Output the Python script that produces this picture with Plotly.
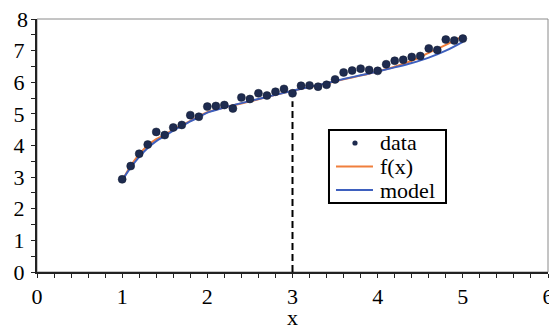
import plotly.graph_objects as go

# ---- data ----
data_x = [1.0, 1.1, 1.2, 1.3, 1.4, 1.5, 1.6, 1.7, 1.8, 1.9,
          2.0, 2.1, 2.2, 2.3, 2.4, 2.5, 2.6, 2.7, 2.8, 2.9,
          3.0, 3.1, 3.2, 3.3, 3.4, 3.5, 3.6, 3.7, 3.8, 3.9,
          4.0, 4.1, 4.2, 4.3, 4.4, 4.5, 4.6, 4.7, 4.8, 4.9, 5.0]
data_y = [2.93, 3.35, 3.74, 4.03, 4.43, 4.33, 4.57, 4.65, 4.96, 4.91,
          5.23, 5.25, 5.28, 5.17, 5.52, 5.47, 5.65, 5.58, 5.70, 5.79,
          5.65, 5.89, 5.90, 5.86, 5.92, 6.09, 6.31, 6.37, 6.43, 6.39,
          6.36, 6.57, 6.68, 6.71, 6.80, 6.83, 7.07, 7.02, 7.35, 7.32, 7.38]

curve_x = [1.0, 1.1, 1.2, 1.3, 1.4, 1.5, 1.6, 1.7, 1.8, 1.9, 2.0,
           2.2, 2.4, 2.6, 2.8, 3.0, 3.2, 3.4, 3.6, 3.8, 4.0,
           4.2, 4.4, 4.6, 4.8, 5.0]
fx_y = [2.88, 3.36, 3.72, 4.00, 4.20, 4.34, 4.50, 4.64, 4.78, 4.92, 5.05,
        5.20, 5.33, 5.46, 5.60, 5.73, 5.85, 5.96, 6.09, 6.21, 6.34,
        6.49, 6.68, 6.93, 7.18, 7.46]
model_y = [2.90, 3.30, 3.64, 3.92, 4.14, 4.30, 4.47, 4.62, 4.76, 4.90, 5.04,
           5.20, 5.34, 5.47, 5.60, 5.73, 5.85, 5.97, 6.10, 6.22, 6.34,
           6.47, 6.61, 6.78, 7.00, 7.28]

y_tick_vals = [0, 1, 2, 3, 4, 5, 6, 7]
y_top_label = 8
series_names = ["data", "f(x)", "model"]
x_title = "x"
marker_x = 3.0
marker_top = 5.4

FONT = "Liberation Serif"
DATA_C = "#1E2B4F"
FX_C = "#F07F3C"
MODEL_C = "#3E60BE"

fig = go.Figure()
fig.add_trace(go.Scatter(x=curve_x, y=fx_y, mode="lines", name=series_names[1],
                         line=dict(color=FX_C, width=2, shape="spline"),
                         showlegend=False))
fig.add_trace(go.Scatter(x=curve_x, y=model_y, mode="lines", name=series_names[2],
                         line=dict(color=MODEL_C, width=2, shape="spline"),
                         showlegend=False))
fig.add_trace(go.Scatter(x=data_x, y=data_y, mode="markers", name=series_names[0],
                         marker=dict(color=DATA_C, size=8,
                                     line=dict(color="#111a33", width=0.5)),
                         showlegend=False))

fig.add_shape(type="line", xref="x", yref="y", x0=marker_x, x1=marker_x,
              y0=0, y1=marker_top, layer="below",
              line=dict(color="black", width=2, dash="7px,4px"))
# frame
fig.add_shape(type="rect", xref="paper", yref="paper", x0=0, x1=1, y0=0, y1=1,
              line=dict(color="#8a8a8a", width=1), layer="below")

# ---- legend (drawn as box + symbols + text) ----
LX0, LX1, LY0, LY1 = 0.5714, 0.8004, 0.2727, 0.5613
rows = [0.5099, 0.417, 0.3241]
sym_x0, sym_x1, dot_x, text_x = 0.5851, 0.6575, 0.6223, 0.6673
fig.add_shape(type="rect", xref="paper", yref="paper", x0=LX0, x1=LX1, y0=LY0, y1=LY1,
              line=dict(color="black", width=2), fillcolor="white", layer="above")
dx, dy = 2.6 / 511, 2.6 / 253
fig.add_shape(type="circle", xref="paper", yref="paper",
              x0=dot_x - dx, x1=dot_x + dx, y0=rows[0] - dy, y1=rows[0] + dy,
              line=dict(color=DATA_C, width=0), fillcolor=DATA_C, layer="above")
fig.add_shape(type="line", xref="paper", yref="paper", x0=sym_x0, x1=sym_x1,
              y0=rows[1], y1=rows[1], line=dict(color=FX_C, width=2), layer="above")
fig.add_shape(type="line", xref="paper", yref="paper", x0=sym_x0, x1=sym_x1,
              y0=rows[2], y1=rows[2], line=dict(color=MODEL_C, width=2), layer="above")
for name, ry in zip(series_names, rows):
    fig.add_annotation(text=name, xref="paper", yref="paper", x=text_x, y=ry,
                       xanchor="left", yanchor="middle", showarrow=False,
                       font=dict(family=FONT, size=22, color="black"))

# x-axis title
fig.add_annotation(text=x_title, xref="paper", yref="paper", x=0.5, y=0,
                   xanchor="center", yanchor="middle", yshift=-45, showarrow=False,
                   font=dict(family=FONT, size=22, color="black"))
# top y tick label (plotly hides it at the plot edge)
fig.add_annotation(text=str(y_top_label), xref="paper", yref="y", x=0, y=y_top_label,
                   xanchor="right", yanchor="middle", xshift=-7, showarrow=False,
                   font=dict(family=FONT, size=22, color="black"))

fig.update_layout(
    width=549, height=329,
    margin=dict(l=37, r=1, t=19, b=57, autoexpand=False),
    paper_bgcolor="white", plot_bgcolor="white",
    font=dict(family=FONT, size=22, color="black"),
    showlegend=False,
    xaxis=dict(range=[0, 6], dtick=1, showgrid=False, zeroline=False,
               automargin=False,
               showline=True, linecolor="#222", linewidth=2,
               ticks="outside", ticklen=4, tickcolor="#222", tickwidth=1,
               ticklabeloverflow="allow",
               minor=dict(dtick=0.2, ticks="outside", ticklen=4,
                          tickcolor="#222", tickwidth=1),
               tickfont=dict(family=FONT, size=22)),
    yaxis=dict(range=[0, 8], tickmode="array",
               tickvals=y_tick_vals,
               showgrid=False, zeroline=False,
               automargin=False,
               showline=True, linecolor="#222", linewidth=2,
               ticks="outside", ticklen=4, tickcolor="#222", tickwidth=1,
               ticklabelstandoff=2, ticklabeloverflow="allow",
               minor=dict(dtick=0.5, ticks="outside", ticklen=4,
                          tickcolor="#222", tickwidth=1),
               tickfont=dict(family=FONT, size=22)),
)

fig.write_html("out.html",
               config={"displayModeBar": False},
               post_script="document.body.style.margin='0';"
                           "document.body.style.overflow='hidden';")
